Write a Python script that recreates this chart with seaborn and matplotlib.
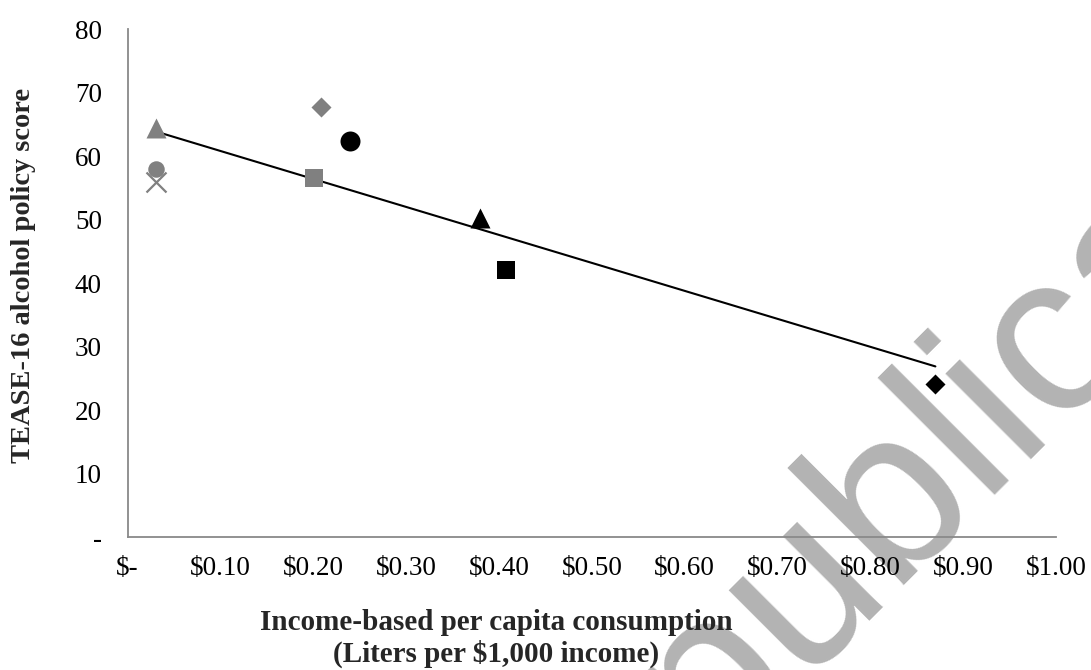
import numpy as np
import pandas as pd
import seaborn as sns
import matplotlib.pyplot as plt

# values
series = ["S1", "S2", "S3", "S4", "S5", "S6", "S7", "S8", "S9"]
consumption = [0.031, 0.031, 0.031, 0.208, 0.240, 0.201, 0.379, 0.408, 0.870]
policy_score = [64.5, 57.9, 55.9, 67.7, 62.4, 56.5, 50.2, 42.0, 24.1]

x_ticks = [0.0, 0.1, 0.2, 0.3, 0.4, 0.5, 0.6, 0.7, 0.8, 0.9, 1.0]
x_ticklabels = ["$-", "$0.10", "$0.20", "$0.30", "$0.40", "$0.50",
                "$0.60", "$0.70", "$0.80", "$0.90", "$1.00"]
y_ticks = [0, 10, 20, 30, 40, 50, 60, 70, 80]
y_ticklabels = ["-", "10", "20", "30", "40", "50", "60", "70", "80"]

# marker style per series (kept apart from the data)
GRAY = "#808080"
styles = {
    "S1": ("^", GRAY, 207), "S2": ("o", GRAY, 141), "S3": ("x", GRAY, 207),
    "S4": ("D", GRAY, 104), "S5": ("o", "black", 207), "S6": ("s", GRAY, 169),
    "S7": ("^", "black", 207), "S8": ("s", "black", 169), "S9": ("D", "black", 104),
}

df = pd.DataFrame({"series": series, "consumption": consumption, "score": policy_score})

sns.set_style("white")
plt.rcParams["font.family"] = ["Liberation Serif", "DejaVu Serif"]

fig = plt.figure(figsize=(10.91, 6.70), dpi=100)
ax = fig.add_axes([0.117, 0.1985, 0.851, 0.758])
ax.patch.set_alpha(0)

# watermark behind the chart
fig.text(0.460, -0.447, "Republica", rotation=45, rotation_mode="anchor",
         ha="left", va="baseline", fontsize=165, color="#b3b3b3",
         family="Liberation Sans", zorder=-1)

# linear trend line
sns.regplot(data=df, x="consumption", y="score", scatter=False, ci=None,
            color="black", line_kws={"linewidth": 1.5}, ax=ax)

for name, sub in df.groupby("series"):
    m, c, s = styles[name]
    if m == "x":
        sns.scatterplot(data=sub, x="consumption", y="score", marker=m, s=s,
                        color=c, linewidth=1.6, ax=ax, zorder=3)
    else:
        sns.scatterplot(data=sub, x="consumption", y="score", marker=m, s=s,
                        color=c, linewidth=0, ax=ax, zorder=3)

ax.set_xlim(0, 1)
ax.set_ylim(0, 80)
ax.set_xticks(x_ticks)
ax.set_xticklabels(x_ticklabels)
ax.set_yticks(y_ticks)
ax.set_yticklabels(y_ticklabels)

spine_col = "#898989"
for side in ["top", "right"]:
    ax.spines[side].set_visible(False)
for side in ["left", "bottom"]:
    ax.spines[side].set_color(spine_col)
    ax.spines[side].set_linewidth(1.3)
ax.tick_params(axis="both", which="major", direction="out", length=5.5,
               width=1.3, color=spine_col, labelsize=19.5, labelcolor="black")
ax.tick_params(axis="y", pad=13)
ax.tick_params(axis="x", pad=8)

ax.set_xlabel("Income-based per capita consumption\n(Liters per $1,000 income)",
              fontsize=21, fontweight="bold")
ax.xaxis.set_label_coords(0.397, -0.141)
ax.set_ylabel("TEASE-16 alcohol policy score", fontsize=20.5, fontweight="bold")
ax.yaxis.set_label_coords(-0.099, 0.516)

fig.savefig("out.png", dpi=100)
